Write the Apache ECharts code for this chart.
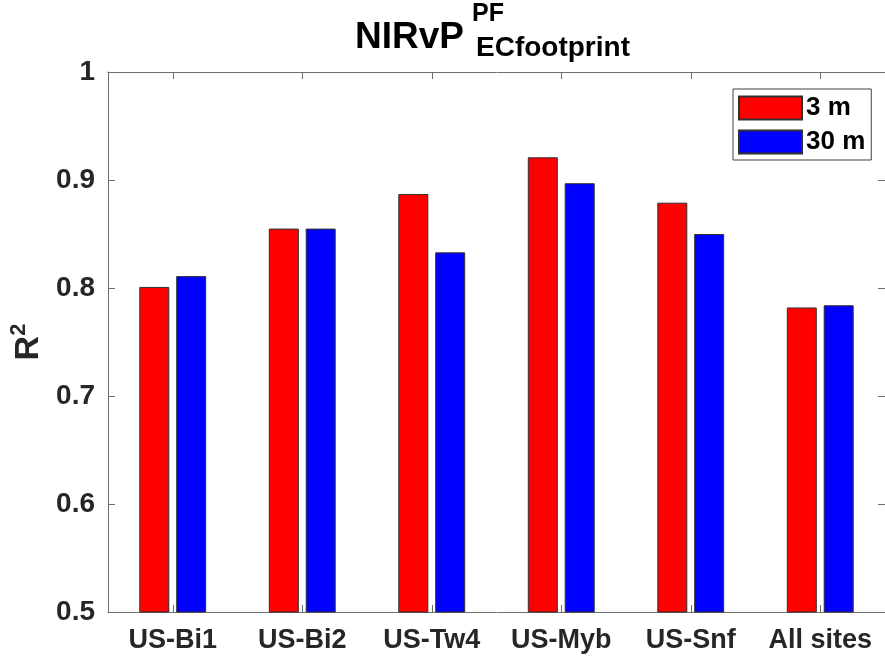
<!DOCTYPE html>
<html>
<head>
<meta charset="utf-8">
<script src="https://cdn.jsdelivr.net/npm/echarts@6/dist/echarts.min.js"></script>
<style>
  html, body { margin: 0; padding: 0; background: #fff; }
  #chart { width: 885px; height: 659px; }
</style>
</head>
<body>
<div id="chart"></div>
<script>
// Sites along the x axis
const categories = ['US-Bi1', 'US-Bi2', 'US-Tw4', 'US-Myb', 'US-Snf', 'All sites'];
// R² at 3 m resolution
const r2At3m = [0.801, 0.855, 0.887, 0.921, 0.879, 0.782];
// R² at 30 m resolution
const r2At30m = [0.811, 0.855, 0.833, 0.897, 0.850, 0.784];
// Series names shown in the legend
const seriesNames = ['3 m', '30 m'];
// y axis range and step
const yMin = 0.5, yMax = 1, yStep = 0.1;

const FONT = '"Liberation Sans", Arial, Helvetica, sans-serif';
const AXIS_COLOR = '#6e6e6e';
const TEXT_COLOR = '#262626';

const chart = echarts.init(document.getElementById('chart'), null, { renderer: 'canvas' });

const gridPos = { left: 108, right: -6, top: 72, bottom: 47 };

const tickStyle = { show: true, inside: true, length: 7, lineStyle: { color: AXIS_COLOR, width: 1 } };

chart.setOption({
  animation: false,
  backgroundColor: '#ffffff',
  textStyle: { fontFamily: FONT },
  graphic: [
    { type: 'text', left: 355, top: 19,
      style: { text: 'NIRvP', font: 'bold 37px ' + FONT, fill: '#000' } },
    { type: 'text', left: 472, top: 2,
      style: { text: 'PF', font: 'bold 25px ' + FONT, fill: '#000' } },
    { type: 'text', left: 476, top: 34,
      style: { text: 'ECfootprint', font: 'bold 28px ' + FONT, fill: '#000' } }
  ],
  legend: {
    left: 733, top: 89,
    orient: 'vertical',
    itemWidth: 63, itemHeight: 23, itemGap: 8,
    padding: [6, 6, 5, 5],
    borderColor: '#404040', borderWidth: 1,
    backgroundColor: '#fff',
    icon: 'rect',
    textStyle: { fontFamily: FONT, fontWeight: 'bold', fontSize: 26, color: '#000', width: 64, padding: [0, 0, 0, -1] },
    data: seriesNames
  },
  grid: Object.assign({ containLabel: false }, gridPos),
  xAxis: [
    {
      type: 'category', data: categories, position: 'bottom',
      axisLine: { show: true, lineStyle: { color: AXIS_COLOR, width: 1 } },
      axisTick: Object.assign({ alignWithLabel: true }, tickStyle),
      axisLabel: { interval: 0, hideOverlap: false, fontFamily: FONT, fontWeight: 'bold', fontSize: 27, color: TEXT_COLOR, margin: 15 },
      splitLine: { show: false }
    },
    {
      type: 'category', data: categories, position: 'top',
      axisLine: { show: true, lineStyle: { color: AXIS_COLOR, width: 1 } },
      axisTick: Object.assign({ alignWithLabel: true }, tickStyle),
      axisLabel: { show: false },
      splitLine: { show: false }
    }
  ],
  yAxis: [
    {
      type: 'value', min: yMin, max: yMax, interval: yStep, position: 'left',
      axisLine: { show: true, lineStyle: { color: AXIS_COLOR, width: 1 } },
      axisTick: tickStyle,
      axisLabel: {
        fontFamily: FONT, fontWeight: 'bold', fontSize: 28, color: TEXT_COLOR, margin: 13,
        formatter: v => String(parseFloat(v.toFixed(1)))
      },
      splitLine: { show: false },
      name: '{r|R}{s|2}',
      nameLocation: 'middle',
      nameRotate: 90,
      nameGap: 59,
      nameTextStyle: {
        rich: {
          r: { fontFamily: FONT, fontWeight: 'bold', fontSize: 34, color: TEXT_COLOR, lineHeight: 40 },
          s: { fontFamily: FONT, fontWeight: 'bold', fontSize: 22, color: TEXT_COLOR, verticalAlign: 'top', lineHeight: 40 }
        }
      }
    },
    {
      type: 'value', min: yMin, max: yMax, interval: yStep, position: 'right',
      axisLine: { show: true, lineStyle: { color: AXIS_COLOR, width: 1 } },
      axisTick: tickStyle,
      axisLabel: { show: false },
      splitLine: { show: false }
    }
  ],
  series: [
    {
      name: seriesNames[0], type: 'bar', data: r2At3m,
      barWidth: 30, barGap: '23%',
      itemStyle: { color: '#ff0000', borderColor: '#303030', borderWidth: 1 }
    },
    {
      name: seriesNames[1], type: 'bar', data: r2At30m,
      barWidth: 30, barGap: '23%',
      itemStyle: { color: '#0000ff', borderColor: '#303030', borderWidth: 1 }
    }
  ]
});
</script>
</body>
</html>
